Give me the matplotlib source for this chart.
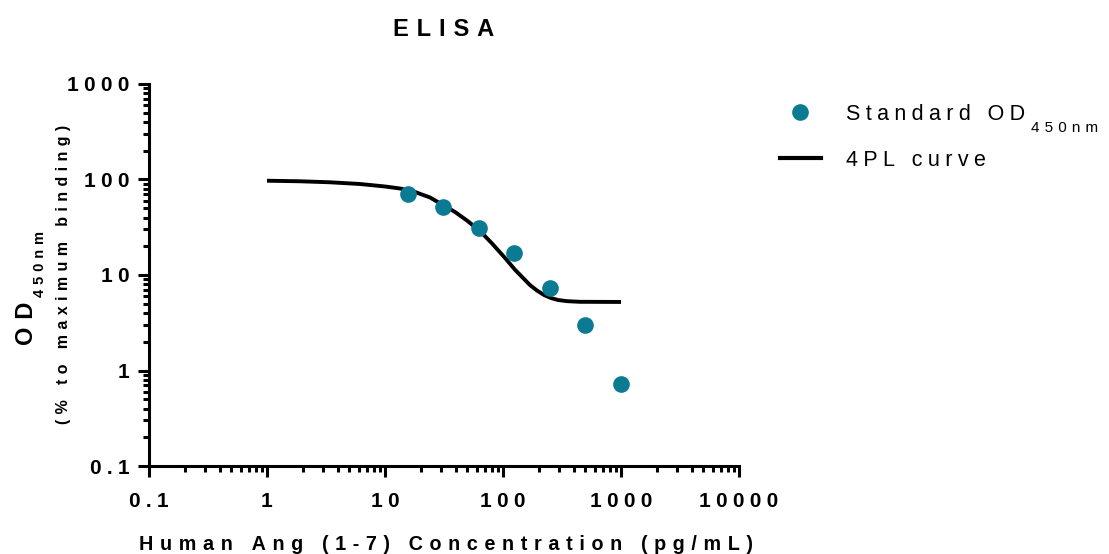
import matplotlib
matplotlib.use('Agg')
import matplotlib.pyplot as plt
from matplotlib.lines import Line2D
from matplotlib.ticker import LogLocator, NullFormatter

# ---- data ----
concentrations = [15.625, 31.25, 62.5, 125, 250, 500, 1000]
od_values = [70.5, 51.9, 30.8, 16.9, 7.36, 2.99, 0.73]

curve_conc = [1.00, 1.905, 3.42, 6.14, 10.0, 13.4, 17.96, 24.07, 31.0, 39.2,
              49.5, 63.8, 80.7, 104, 126, 148, 169, 194, 223, 255, 293, 349,
              449, 1000]
curve_od = [97.1, 95.8, 93.5, 89.7, 84.5, 80.5, 74.0, 64.8, 54.1, 45.7,
            37.2, 28.9, 21.4, 15.1, 11.4, 9.30, 7.86, 6.88, 6.17, 5.74, 5.47,
            5.32, 5.24, 5.22]

x_ticks = [0.1, 1, 10, 100, 1000, 10000]
x_tick_labels = ['0.1', '1', '10', '100', '1000', '10000']
y_ticks = [0.1, 1, 10, 100, 1000]
y_tick_labels = ['0.1', '1', '10', '100', '1000']

title = 'ELISA'
x_label = 'Human Ang (1-7) Concentration (pg/mL)'
y_label_main = 'OD'
y_label_subscript = '450nm'
y_label_sub = '(% to maximum binding)'
legend_points = 'Standard OD'
legend_points_subscript = '450nm'
legend_curve = '4PL curve'

TEAL = '#0b7b93'

plt.rcParams['font.family'] = ['Liberation Sans', 'DejaVu Sans']


def tr(s, sp='\u2004'):
    return sp.join(s)


W, H = 1109, 554
fig = plt.figure(figsize=(W / 100, H / 100), dpi=100)
ax = fig.add_axes([149 / W, 1 - 466 / H, (739 - 149) / W, (466 - 84) / H])
ax.set_xscale('log')
ax.set_yscale('log')
ax.set_xlim(0.1, 10000)
ax.set_ylim(0.1, 1000)

ax.plot(curve_conc, curve_od, color='black', lw=2.8, solid_joinstyle='round',
        solid_capstyle='butt', zorder=2, clip_on=False)
ax.plot(concentrations, od_values, 'o', color=TEAL, ms=12, mec='none',
        zorder=3, clip_on=False)

for s in ['top', 'right']:
    ax.spines[s].set_visible(False)
for s in ['left', 'bottom']:
    ax.spines[s].set_linewidth(2.2)

ax.set_xticks(x_ticks)
ax.set_xticklabels([tr(l, '\u2005') for l in x_tick_labels])
ax.set_yticks(y_ticks)
ax.set_yticklabels([tr(l, '\u2005') for l in y_tick_labels])
ax.xaxis.set_minor_locator(LogLocator(base=10, subs=range(2, 10), numticks=50))
ax.yaxis.set_minor_locator(LogLocator(base=10, subs=range(2, 10), numticks=50))
ax.xaxis.set_minor_formatter(NullFormatter())
ax.yaxis.set_minor_formatter(NullFormatter())
ax.tick_params(which='major', length=8, width=2.2, direction='out', labelsize=15)
ax.tick_params(which='minor', length=4.5, width=2.2, direction='out')
ax.tick_params(axis='x', which='major', pad=11)
ax.tick_params(axis='y', which='major', pad=6)
for lab in ax.get_xticklabels() + ax.get_yticklabels():
    lab.set_fontweight('bold')

fig.text(444 / W, 1 - 29 / H, tr(title), ha='center', va='center',
         fontsize=17, fontweight='bold')
fig.text(446 / W, 1 - 550 / H, tr(x_label), ha='center', va='baseline',
         fontsize=14.25, fontweight='bold')

# y label: "OD" + subscript, rotated
t_od = fig.text(33 / W, 1 - 345 / H, tr(y_label_main), rotation=90,
                rotation_mode='anchor', ha='left', va='baseline',
                fontsize=17, fontweight='bold')
fig.text(64 / W, 1 - 274 / H, tr(y_label_sub), rotation=90, ha='center',
         va='center', fontsize=11.5, fontweight='bold')

handles = [Line2D([], [], ls='none', marker='o', ms=12, color=TEAL, mec='none'),
           Line2D([], [], color='black', lw=3)]
labels = [tr(legend_points, '\u2005'), tr(legend_curve, '\u2005')]
leg = fig.legend(handles, labels, loc='upper left',
                 bbox_to_anchor=(780 / W, 1 - 104 / H),
                 frameon=False, fontsize=15.5, handlelength=1.9,
                 handletextpad=1.15, labelspacing=1.15, borderpad=0,
                 borderaxespad=0)

fig.canvas.draw()
renderer = fig.canvas.get_renderer()

# subscript of the y label, placed after "O D"
bb = t_od.get_window_extent(renderer)
fig.text((bb.x1 + 6) / W, (bb.y1 + 5) / H, tr(y_label_subscript), rotation=90,
         rotation_mode='anchor', ha='left', va='baseline', fontsize=10.5,
         fontweight='bold')

# subscript of the first legend entry
lt = leg.get_texts()[0]
lb = lt.get_window_extent(renderer)
_, _, desc = renderer.get_text_width_height_descent(
    lt.get_text(), lt.get_fontproperties(), ismath=False)
baseline = lb.y0 + desc
fig.text((lb.x1 + 6) / W, (baseline - 7) / H, tr(legend_points_subscript),
         ha='left', va='baseline', fontsize=11)

fig.savefig('out.png', dpi=100)
